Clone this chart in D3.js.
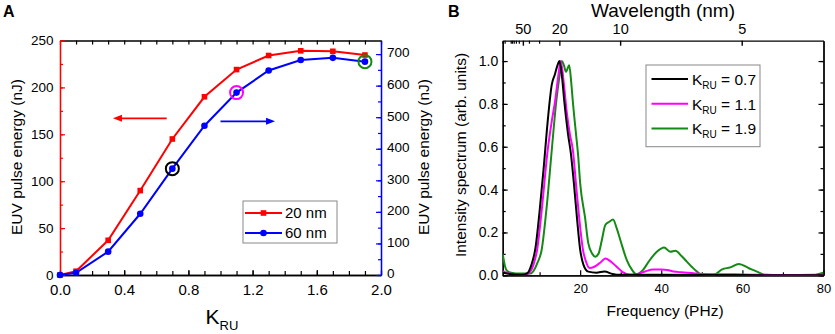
<!DOCTYPE html>
<html><head><meta charset="utf-8">
<script src="https://cdn.jsdelivr.net/npm/d3@7"></script>
<style>
body{margin:0;background:#fff}
svg{display:block;font-family:Arial,"Liberation Sans",sans-serif}
</style>
</head><body>
<svg id="chart" width="835" height="334"></svg>
<script>
// ---------- Panel A data ----------
const kru = [0, 0.1, 0.3, 0.5, 0.7, 0.9, 1.1, 1.3, 1.5, 1.7, 1.9];
const energy20nm = [0, 4, 37, 90, 145, 190, 219, 234, 239, 238.5, 234.5];
const energy60nm = [0, 7, 74, 194, 337, 473, 578, 648, 681, 688, 676];
const highlightK = [0.7, 1.1, 1.9];
const highlightColors = ["#000000", "#ff00ff", "#138a13"];
const xTicksA = [0, 0.4, 0.8, 1.2, 1.6, 2.0];
const leftTicksA = [0, 50, 100, 150, 200, 250];
const rightTicksA = [0, 100, 200, 300, 400, 500, 600, 700];

// ---------- Panel B data ----------
const freqK07 = [1, 2, 4, 6, 7, 8, 9, 10, 11, 12, 13, 13.8, 14.4, 14.9, 15.5, 16.1, 17, 17.7, 18.5, 19.2, 20, 20.8, 22, 24, 26, 28, 30, 40, 60, 80];
const specK07 = [0.012, 0.008, 0.004, 0.003, 0.01, 0.05, 0.13, 0.3, 0.5, 0.72, 0.89, 0.94, 0.98, 1.0, 0.93, 0.81, 0.66, 0.57, 0.42, 0.27, 0.12, 0.05, 0.017, 0.012, 0.018, 0.006, 0.002, 0.002, 0.001, 0];
const freqK11 = [1, 2, 4, 6, 7, 7.8, 8.5, 9.4, 10.5, 12, 13, 13.8, 14.6, 15.2, 16, 16.7, 17.5, 18.2, 19, 19.75, 20.7, 21.5, 22.3, 23.5, 25, 26.2, 27.5, 29, 30.5, 32.3, 34, 36, 38, 40, 41.5, 43, 45, 48, 50, 55, 60, 65, 70, 80];
const specK11 = [0.02, 0.01, 0.005, 0.003, 0.006, 0.02, 0.05, 0.12, 0.3, 0.585, 0.72, 0.81, 0.93, 1.0, 0.89, 0.76, 0.655, 0.585, 0.42, 0.27, 0.118, 0.06, 0.034, 0.04, 0.06, 0.078, 0.065, 0.04, 0.015, 0.002, 0.005, 0.018, 0.027, 0.027, 0.025, 0.018, 0.014, 0.01, 0.006, 0.005, 0.004, 0.002, 0.001, 0];
const freqK19 = [0.9, 1.5, 2, 3, 5, 7, 8, 8.5, 9.5, 10.5, 11.8, 13, 14.1, 14.9, 15.5, 16, 16.5, 17.3, 17.8, 18.2, 19, 19.5, 20, 21.2, 22, 23, 23.7, 24.5, 25.3, 26.2, 27.2, 28.1, 29, 29.9, 31.5, 32.8, 33.8, 35.5, 36.9, 38.9, 40.7, 42.2, 43.5, 45, 46.3, 47.5, 48.8, 50, 52.9, 55, 57, 59.1, 61.6, 63.6, 65.7, 70, 78, 80];
const specK19 = [0.1, 0.04, 0.02, 0.012, 0.008, 0.008, 0.01, 0.02, 0.06, 0.118, 0.33, 0.585, 0.81, 0.93, 1.0, 0.98, 0.95, 0.98, 0.9, 0.81, 0.655, 0.56, 0.43, 0.27, 0.15, 0.1, 0.087, 0.1, 0.16, 0.235, 0.25, 0.26, 0.22, 0.165, 0.071, 0.025, 0.005, 0.025, 0.064, 0.11, 0.13, 0.11, 0.115, 0.09, 0.064, 0.04, 0.017, 0.003, 0.002, 0.028, 0.037, 0.053, 0.033, 0.017, 0.002, 0.001, 0.003, 0.012];
const seriesLabelsB = ["0.7", "1.1", "1.9"];
const seriesColorsB = ["#000000", "#ff00ff", "#138a13"];
const freqTicksB = [20, 40, 60, 80];
const freqMinorB = [10, 30, 50, 70];
const intensityTicksB = [0, 0.2, 0.4, 0.6, 0.8, 1.0];
const wavelengthMajor = [50, 20, 10, 5];
const wavelengthMinor = [300, 200, 100, 90, 80, 70, 60, 40, 30];
const C_NM_PHZ = 299.79; // nm * PHz

const svg = d3.select("#chart");
const font = 'Arial, "Liberation Sans", sans-serif';

// ================= PANEL A =================
const A = {l: 60, r: 381, t: 40.5, b: 275};
const xA = d3.scaleLinear().domain([0, 2]).range([A.l, A.r]);
const yL = d3.scaleLinear().domain([0, 250]).range([A.b, A.t]);
const yR = d3.scaleLinear().domain([0, 743]).range([A.b, A.t]);
const gA = svg.append("g");

function styleAxis(g, color, fs) {
  g.select(".domain").attr("stroke", color).attr("stroke-width", 1.3);
  g.selectAll(".tick line").attr("stroke", color).attr("stroke-width", 1.2);
  g.selectAll(".tick text").attr("fill", "#000").style("font-size", fs + "px").style("font-family", font);
}

const minorX = d3.range(0, 20.5).map(i => i / 10);
gA.append("g").attr("transform", `translate(0,${A.b})`)
  .call(d3.axisBottom(xA).tickValues(minorX).tickSizeInner(-4).tickSizeOuter(0).tickFormat(""))
  .call(g => styleAxis(g, "#000", 15));
gA.append("g").attr("transform", `translate(0,${A.b})`)
  .call(d3.axisBottom(xA).tickValues(xTicksA).tickSizeInner(-5).tickSizeOuter(0).tickPadding(9.5).tickFormat(d3.format(".1f")))
  .call(g => styleAxis(g, "#000", 15));
gA.append("g").attr("transform", `translate(0,${A.t})`)
  .call(d3.axisTop(xA).tickValues(minorX).tickSizeInner(-4).tickSizeOuter(0).tickFormat(""))
  .call(g => styleAxis(g, "#000", 15));

const minorL = d3.range(0, 251, 25);
gA.append("g").attr("transform", `translate(${A.l},0)`)
  .call(d3.axisLeft(yL).tickValues(minorL).tickSizeInner(-3).tickSizeOuter(0).tickFormat(""))
  .call(g => styleAxis(g, "#ff0000", 13.5));
gA.append("g").attr("transform", `translate(${A.l},0)`)
  .call(d3.axisLeft(yL).tickValues(leftTicksA).tickSizeInner(-5).tickSizeOuter(0).tickPadding(6.5))
  .call(g => styleAxis(g, "#ff0000", 13.5));

const minorR = d3.range(0, 741, 50);
gA.append("g").attr("transform", `translate(${A.r},0)`)
  .call(d3.axisRight(yR).tickValues(minorR).tickSizeInner(-3).tickSizeOuter(0).tickFormat(""))
  .call(g => styleAxis(g, "#0000ff", 13.5));
gA.append("g").attr("transform", `translate(${A.r},0)`)
  .call(d3.axisRight(yR).tickValues(rightTicksA).tickSizeInner(-5).tickSizeOuter(0).tickPadding(6))
  .call(g => styleAxis(g, "#0000ff", 13.5))
  .call(g => g.selectAll(".tick text").attr("y", -1.5));

const line20 = d3.line().x((d, i) => xA(kru[i])).y(d => yL(d));
const line60 = d3.line().x((d, i) => xA(kru[i])).y(d => yR(d));
gA.append("path").attr("d", line20(energy20nm)).attr("fill", "none").attr("stroke", "#ff0000").attr("stroke-width", 2);
gA.append("path").attr("d", line60(energy60nm)).attr("fill", "none").attr("stroke", "#0000ff").attr("stroke-width", 2);
gA.selectAll(".sq").data(energy20nm).enter().append("rect")
  .attr("x", (d, i) => xA(kru[i]) - 2.8).attr("y", d => yL(d) - 2.8)
  .attr("width", 5.6).attr("height", 5.6).attr("fill", "#ff0000");
gA.selectAll(".ci").data(energy60nm).enter().append("circle")
  .attr("cx", (d, i) => xA(kru[i])).attr("cy", d => yR(d)).attr("r", 3.3).attr("fill", "#0000ff");

highlightK.forEach((k, j) => {
  const i = kru.indexOf(k);
  gA.append("circle").attr("cx", xA(k)).attr("cy", yR(energy60nm[i])).attr("r", 6.5)
    .attr("fill", "none").attr("stroke", highlightColors[j]).attr("stroke-width", 2);
});

function arrow(g, x1, x2, y, color) {
  const dir = Math.sign(x2 - x1);
  g.append("line").attr("x1", x1).attr("x2", x2 - dir * 7).attr("y1", y).attr("y2", y)
    .attr("stroke", color).attr("stroke-width", 1.8);
  g.append("path").attr("d", `M${x2},${y} L${x2 - dir * 9},${y - 3.5} L${x2 - dir * 9},${y + 3.5} Z`).attr("fill", color);
}
arrow(gA, xA(0.665), xA(0.33), yL(167), "#ff0000");
arrow(gA, xA(1.0), xA(1.34), yR(487), "#0000ff");

const lgA = gA.append("g");
lgA.append("rect").attr("x", 243).attr("y", 201).attr("width", 94).attr("height", 42)
  .attr("fill", "#fff").attr("stroke", "#888").attr("stroke-width", 1);
[["20 nm", "#ff0000", "sq"], ["60 nm", "#0000ff", "ci"]].forEach(([lab, col, m], i) => {
  const y = 213 + i * 20;
  lgA.append("line").attr("x1", 245).attr("x2", 282).attr("y1", y).attr("y2", y).attr("stroke", col).attr("stroke-width", 2);
  if (m === "sq") lgA.append("rect").attr("x", 263.5 - 2.8).attr("y", y - 2.8).attr("width", 5.6).attr("height", 5.6).attr("fill", col);
  else lgA.append("circle").attr("cx", 263.5).attr("cy", y).attr("r", 3.3).attr("fill", col);
  lgA.append("text").attr("x", 285).attr("y", y + 5.3).text(lab).style("font-size", "15px").attr("fill", "#000");
});

svg.append("text").attr("x", 3).attr("y", 16.5).text("A").style("font-size", "16px").style("font-weight", "bold");
svg.append("text").attr("transform", `translate(22,157) rotate(-90)`).attr("text-anchor", "middle")
  .text("EUV pulse energy (nJ)").style("font-size", "15.5px");
svg.append("text").attr("transform", `translate(429,157) rotate(-90)`).attr("text-anchor", "middle")
  .text("EUV pulse energy (nJ)").style("font-size", "15.5px");
const kt = svg.append("text").attr("x", 205.5).attr("y", 323.5).style("font-size", "21px");
kt.append("tspan").text("K");
kt.append("tspan").attr("dy", 6.5).style("font-size", "13px").text("RU");

// ================= PANEL B =================
const B = {l: 502.7, r: 823.5, t: 40.7, b: 275.3};
const xB = d3.scaleLinear().domain([0.9, 80]).range([B.l, B.r]);
const yB = d3.scaleLinear().domain([0, 1.095]).range([B.b, B.t]);
const gB = svg.append("g");

gB.append("g").attr("transform", `translate(0,${B.b})`)
  .call(d3.axisBottom(xB).tickValues(freqMinorB).tickSizeInner(-3).tickSizeOuter(0).tickFormat(""))
  .call(g => styleAxis(g, "#000", 13));
gB.append("g").attr("transform", `translate(0,${B.b})`)
  .call(d3.axisBottom(xB).tickValues(freqTicksB).tickSizeInner(-5).tickSizeOuter(0).tickPadding(8.5))
  .call(g => styleAxis(g, "#000", 13));

const minorYB = d3.range(0, 11).map(i => i / 10);
[["L", B.l, d3.axisLeft], ["R", B.r, d3.axisRight]].forEach(([side, xp, ax]) => {
  gB.append("g").attr("transform", `translate(${xp},0)`)
    .call(ax(yB).tickValues(minorYB).tickSizeInner(-3).tickSizeOuter(0).tickFormat(""))
    .call(g => styleAxis(g, "#000", 14));
  gB.append("g").attr("transform", `translate(${xp},0)`)
    .call(ax(yB).tickValues(intensityTicksB).tickSizeInner(-5).tickSizeOuter(0).tickPadding(4.5)
      .tickFormat(side === "L" ? d3.format(".1f") : ""))
    .call(g => styleAxis(g, "#000", 14));
});

const wlScale = v => xB(C_NM_PHZ / v);
const topG = gB.append("g").attr("transform", `translate(0,${B.t})`);
topG.call(d3.axisTop(xB).tickValues([]).tickSizeOuter(0)).call(g => styleAxis(g, "#000", 14));
topG.selectAll(".wmin").data(wavelengthMinor).enter().append("line")
  .attr("x1", wlScale).attr("x2", wlScale).attr("y1", 0).attr("y2", 3).attr("stroke", "#000").attr("stroke-width", 1.2);
topG.selectAll(".wmaj").data(wavelengthMajor).enter().append("line")
  .attr("x1", wlScale).attr("x2", wlScale).attr("y1", 0).attr("y2", 5).attr("stroke", "#000").attr("stroke-width", 1.4);
topG.selectAll(".wlab").data(wavelengthMajor).enter().append("text")
  .attr("x", wlScale).attr("y", -6.7).attr("text-anchor", "middle").text(d => d)
  .style("font-size", "14.5px").attr("fill", "#000");

svg.append("clipPath").attr("id", "clipB").append("rect")
  .attr("x", B.l).attr("y", B.t).attr("width", B.r - B.l).attr("height", B.b - B.t);

const seriesB = [[freqK07, specK07], [freqK11, specK11], [freqK19, specK19]];
const lineB = d3.line().curve(d3.curveMonotoneX);
[2, 1, 0].forEach(j => {
  const [fx, sy] = seriesB[j];
  const pts = fx.map((f, i) => [xB(f), yB(sy[i])]);
  gB.append("path").attr("clip-path", "url(#clipB)").attr("d", lineB(pts))
    .attr("fill", "none").attr("stroke", seriesColorsB[j]).attr("stroke-width", 2);
});

const lgB = gB.append("g");
lgB.append("rect").attr("x", 646).attr("y", 65).attr("width", 114).attr("height", 81.7)
  .attr("fill", "#fff").attr("stroke", "#888").attr("stroke-width", 1);
seriesLabelsB.forEach((lab, j) => {
  const y = 79 + j * 24.7;
  lgB.append("line").attr("x1", 651.5).attr("x2", 688).attr("y1", y).attr("y2", y)
    .attr("stroke", seriesColorsB[j]).attr("stroke-width", 2);
  const t = lgB.append("text").attr("x", 692).attr("y", y + 6).style("font-size", "15.5px").attr("fill", "#000");
  t.append("tspan").text("K");
  t.append("tspan").attr("dy", 4).style("font-size", "10px").text("RU");
  t.append("tspan").attr("dy", -4).text(" = " + lab);
});

svg.append("text").attr("x", 448).attr("y", 16.5).text("B").style("font-size", "16px").style("font-weight", "bold");
svg.append("text").attr("x", 663).attr("y", 17).attr("text-anchor", "middle").text("Wavelength (nm)").style("font-size", "19px");
svg.append("text").attr("x", 665).attr("y", 316).attr("text-anchor", "middle").text("Frequency (PHz)").style("font-size", "15.5px");
svg.append("text").attr("transform", `translate(466,155) rotate(-90)`).attr("text-anchor", "middle")
  .text("Intensity spectrum (arb. units)").style("font-size", "15.5px");
</script>
</body></html>
